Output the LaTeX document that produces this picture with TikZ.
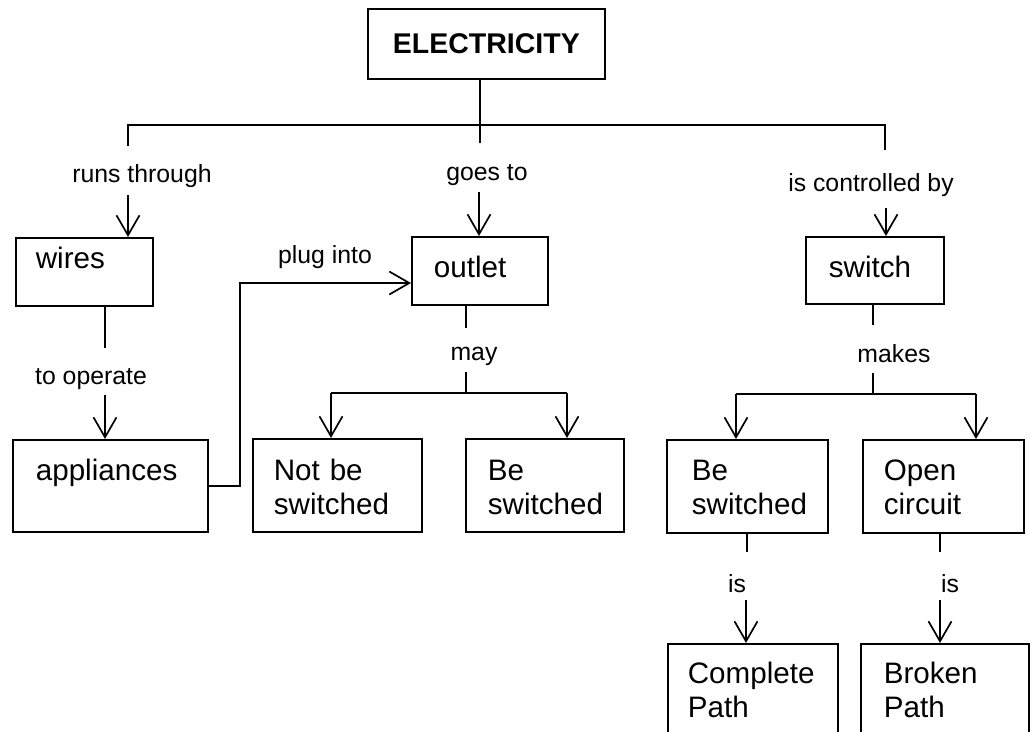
\documentclass[tikz,border=0pt]{standalone}
\usepackage{fontspec}
\setmainfont{Liberation Sans}
\usetikzlibrary{arrows.meta}
\newcommand{\boxfont}{\fontsize{29.6pt}{33.5pt}\selectfont}
\newcommand{\labfont}{\fontsize{24.8pt}{28pt}\selectfont}
\tikzset{
  ln/.style={line width=1.7pt},
  arr/.style={ln, -{Straight Barb[length=20pt,width=23pt]}},
  cbox/.style={draw, line width=1.7pt, inner sep=0pt, anchor=north west, align=left, font=\boxfont},
  lab/.style={inner sep=0pt, anchor=base, font=\labfont},
}
\begin{document}
\begin{tikzpicture}[x=1pt,y=-1pt]
\useasboundingbox (0,0) rectangle (1030,731);
\clip (0,0) rectangle (1030,731);
% boxes
\node[draw, line width=1.7pt, inner sep=0pt, anchor=north west, minimum width=237pt, text height=45pt, text depth=25pt, font=\fontsize{28.5pt}{32pt}\selectfont\bfseries] (elec) at (367,8) {ELECTRICITY};
\node[cbox, inner xsep=20pt, text width=97pt, text height=31pt, text depth=37pt] (wires) at (15,237) {wires};
\node[cbox, inner xsep=23pt, text width=149pt, text height=41pt, text depth=51pt] (appl) at (12,439) {appliances};
\node[cbox, inner xsep=22pt, text width=92pt, text height=41pt, text depth=27pt] (outlet) at (411,236) {outlet};
\node[cbox, inner xsep=21pt, text width=127pt, text height=42pt, text depth=51pt] (notbe) at (252,438) {Not be\\switched};
\node[cbox, inner xsep=22pt, text width=114pt, text height=42pt, text depth=51pt] (besw1) at (465,438) {Be\\switched};
\node[cbox, inner xsep=23pt, text width=92pt, text height=41pt, text depth=26pt] (switch) at (805,236) {switch};
\node[cbox, inner xsep=25pt, text width=111pt, text height=41pt, text depth=52pt] (besw2) at (666,439) {Be\\switched};
\node[cbox, inner xsep=21pt, text width=119pt, text height=41pt, text depth=52pt] (open) at (862,439) {Open\\circuit};
\node[cbox, inner xsep=20pt, text width=130pt, text height=40pt, text depth=70pt] (complete) at (667,643) {Complete\\Path};
\node[cbox, inner xsep=23pt, text width=122pt, text height=40pt, text depth=70pt] (broken) at (860,643) {Broken\\Path};
% labels
\node[lab] (lRuns) at (142,182) {runs through};
\node[lab] (lGoes) at (487,180) {goes to};
\node[lab] (lCtrl) at (871,191) {is controlled by};
\node[lab] (lPlug) at (325,263) {plug into};
\node[lab] (lOp) at (91,384) {to operate};
\node[lab] (lMay) at (474,360) {may};
\node[lab] (lMakes) at (894,362) {makes};
\node[lab] (lIs1) at (737,592) {is};
\node[lab] (lIs2) at (950,592) {is};
% junction coordinates
\coordinate (jTop) at (480,125);
\coordinate (jTopEnd) at (480,143);
\coordinate (jLeft) at (128,125);
\coordinate (jLeftEnd) at (128,146);
\coordinate (jRight) at (885,125);
\coordinate (jRightEnd) at (885,150);
\coordinate (aRuns) at (128,195);
\coordinate (aGoes) at (479,192);
\coordinate (aCtrl) at (886,208);
\coordinate (wOp) at (105,348);
\coordinate (aOp) at (105,395);
\coordinate (pC) at (240,283);
\coordinate (oTop) at (466,328);
\coordinate (mTop) at (466,372);
\coordinate (mJ) at (466,393);
\coordinate (mL) at (331,393);
\coordinate (mR) at (567,393);
\coordinate (sTop) at (873,325);
\coordinate (kTop) at (873,373);
\coordinate (kJ) at (873,394);
\coordinate (kL) at (736,394);
\coordinate (kR) at (976,394);
\coordinate (c1) at (747,552);
\coordinate (c2) at (940,552);
\coordinate (a1) at (746,600);
\coordinate (a2) at (940,600);
% connectors
\draw[ln] (elec.south -| jTop) -- (jTopEnd);
\draw[ln] (jLeftEnd) -- (jLeft) -- (jRight) -- (jRightEnd);
\draw[arr] (aRuns) -- (wires.north -| aRuns);
\draw[arr] (aGoes) -- (outlet.north -| aGoes);
\draw[arr] (aCtrl) -- (switch.north -| aCtrl);
\draw[ln] (wires.south -| wOp) -- (wOp);
\draw[arr] (aOp) -- (appl.north -| aOp);
\draw[arr] (appl.east) -| (pC) -- (outlet.west |- pC);
\draw[ln] (outlet.south -| oTop) -- (oTop);
\draw[ln] (mTop) -- (mJ);
\draw[ln] (mL) -- (mR);
\draw[arr] (mL) -- (notbe.north -| mL);
\draw[arr] (mR) -- (besw1.north -| mR);
\draw[ln] (switch.south -| sTop) -- (sTop);
\draw[ln] (kTop) -- (kJ);
\draw[ln] (kL) -- (kR);
\draw[arr] (kL) -- (besw2.north -| kL);
\draw[arr] (kR) -- (open.north -| kR);
\draw[ln] (besw2.south -| c1) -- (c1);
\draw[ln] (open.south -| c2) -- (c2);
\draw[arr] (a1) -- (complete.north -| a1);
\draw[arr] (a2) -- (broken.north -| a2);
\end{tikzpicture}
\end{document}
